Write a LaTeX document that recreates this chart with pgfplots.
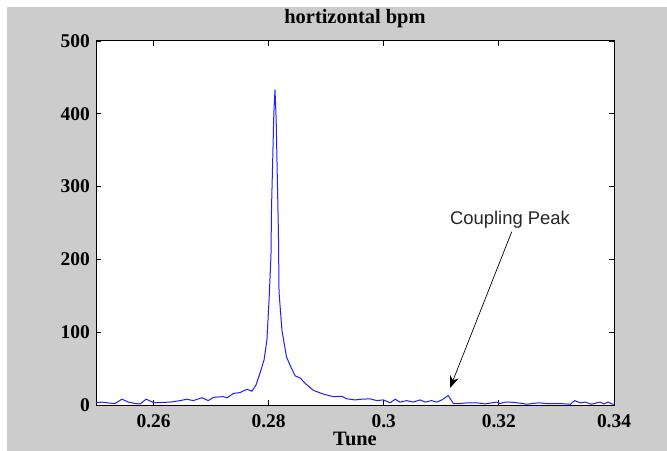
\documentclass[border=0pt]{standalone}
\usepackage{fontspec}
\setmainfont{Liberation Serif}
\newfontfamily\arialfont{Liberation Sans}
\usepackage{pgfplots}
\pgfplotsset{compat=1.18}
\usetikzlibrary{arrows.meta}
\definecolor{bggray}{RGB}{204,204,204}
\begin{document}
\begin{tikzpicture}
\fill[white] (0bp,0bp) rectangle (667bp,451bp);
\fill[bggray] (7bp,0bp) rectangle (667bp,444bp);
\begin{axis}[at={(96bp,46bp)}, anchor=south west, scale only axis,
  width=518bp, height=364bp,
  xmin=0.25, xmax=0.34, ymin=0, ymax=500,
  xtick={0.26,0.28,0.30,0.32,0.34},
  xticklabels={0.26,0.28,0.3,0.32,0.34},
  ytick={0,100,200,300,400,500},
  yticklabels={0,100,200,300,400,500},
  tick align=inside, major tick length=5bp,
  axis background/.style={fill=white},
  axis line style={black, line width=1bp},
  every tick/.style={black, line width=0.8bp},
  tick label style={font=\fontsize{19.5}{22}\selectfont\bfseries, inner sep=0pt},
  xticklabel style={anchor=base, yshift=-22bp},
  yticklabel style={anchor=east, xshift=-6bp},
  title={hortizontal bpm},
  title style={font=\fontsize{20.5}{22}\selectfont\bfseries, at={(axis description cs:0.5,1)}, anchor=base, yshift=12bp, inner sep=0pt},
  xlabel={Tune},
  xlabel style={font=\fontsize{20.5}{22}\selectfont\bfseries, at={(axis description cs:0.5,0)}, anchor=base, yshift=-40bp, inner sep=0pt},
  clip=true,
]
\addplot[color={rgb,255:red,30;green,30;blue,255}, line width=1bp, mark=none] coordinates {
(0.2500,3) (0.2510,4) (0.2519,3) (0.2533,2) (0.2545,8) (0.2556,4) (0.2568,2)
(0.2577,1.5) (0.2587,8) (0.2597,4.5) (0.2600,3) (0.2629,4) (0.2646,6) (0.2658,8)
(0.2669,6) (0.2684,10) (0.2695,6) (0.2704,10.5) (0.2721,11.5) (0.2728,10) (0.2739,16)
(0.2750,17) (0.2762,21.5) (0.2771,19) (0.2778,27.5) (0.2785,44) (0.2792,62) (0.2797,89)
(0.2801,150) (0.2804,205) (0.2805,272) (0.2807,336) (0.2809,401) (0.2811,433)
(0.2813,393) (0.2815,313) (0.2817,235) (0.2818,155) (0.2823,103) (0.2831,66)
(0.2837,55) (0.2846,40) (0.2855,37) (0.2863,30) (0.2878,20) (0.2895,15) (0.2912,11.5)
(0.2927,12) (0.2936,8.5) (0.2950,7) (0.2962,8) (0.2976,8.5) (0.2988,6) (0.2999,7)
(0.3011,3) (0.3020,8) (0.3028,4) (0.3040,6) (0.3051,4) (0.3063,7) (0.3072,4)
(0.3083,6) (0.3092,4) (0.3101,7) (0.3112,13) (0.3121,2) (0.3133,2) (0.3144,3)
(0.3162,3) (0.3176,1.5) (0.3188,3) (0.3196,4) (0.3202,2) (0.3211,4) (0.3219,4)
(0.3231,3) (0.3242,2) (0.3248,1) (0.3269,3) (0.3283,2) (0.3306,2) (0.3324,1)
(0.3332,6) (0.3341,3) (0.3350,4) (0.3361,1) (0.3370,3) (0.3376,4) (0.3382,1.5)
(0.3390,4) (0.3396,1.5) (0.3400,1)
};
\draw[black, line width=0.7bp, -{Stealth[length=12bp,width=9bp]}] (axis cs:0.32223,238) -- (axis cs:0.31151,23.4);
\node[font=\arialfont\fontsize{18.5}{20}\selectfont, text=black!85, anchor=center, inner sep=0pt] at (axis cs:0.32193,254) {Coupling Peak};
\end{axis}
\pgfresetboundingbox
\path[use as bounding box] (0bp,0bp) rectangle (667bp,451bp);
\end{tikzpicture}
\end{document}
